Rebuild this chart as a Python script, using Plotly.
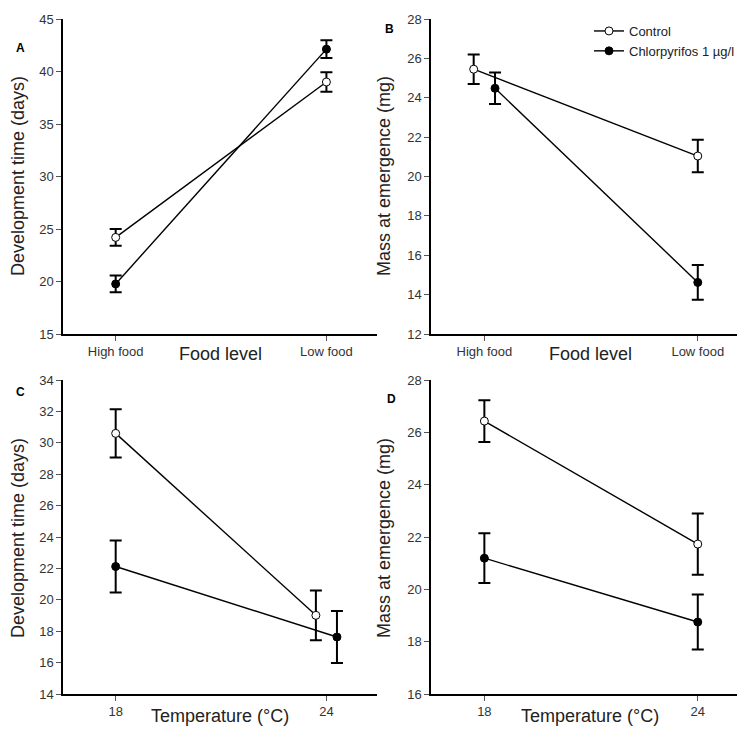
import plotly.graph_objects as go

# ---------------- data ----------------
food_levels = ["High food", "Low food"]
temperatures = ["18", "24"]

# Panel A: development time vs food level
devtime_food_control = [24.2, 39.0]
devtime_food_control_se = [0.8, 0.93]
devtime_food_cpf = [19.77, 42.13]
devtime_food_cpf_se = [0.8, 0.84]

# Panel B: mass at emergence vs food level
mass_food_control = [25.45, 21.04]
mass_food_control_se = [0.75, 0.83]
mass_food_cpf = [24.48, 14.62]
mass_food_cpf_se = [0.8, 0.88]

# Panel C: development time vs temperature
devtime_temp_control = [30.6, 19.01]
devtime_temp_control_se = [1.53, 1.59]
devtime_temp_cpf = [22.12, 17.63]
devtime_temp_cpf_se = [1.66, 1.66]

# Panel D: mass at emergence vs temperature
mass_temp_control = [26.43, 21.73]
mass_temp_control_se = [0.8, 1.17]
mass_temp_cpf = [21.19, 18.75]
mass_temp_cpf_se = [0.95, 1.05]

# small horizontal dodge used in the original to separate overlapping points
dodge_B_control = [-0.05, 0.0]
dodge_B_cpf = [0.05, 0.0]
dodge_C_control = [0.0, -0.05]
dodge_C_cpf = [0.0, 0.05]
no_dodge = [0.0, 0.0]

series_names = ["Control", "Chlorpyrifos 1 µg/l"]

# ---------------- figure ----------------
W, H = 745, 730
FONT = "Liberation Sans, Arial, sans-serif"
fig = go.Figure()

panels = [
    ("x", "y", devtime_food_control, devtime_food_control_se, devtime_food_cpf, devtime_food_cpf_se, no_dodge, no_dodge),
    ("x2", "y2", mass_food_control, mass_food_control_se, mass_food_cpf, mass_food_cpf_se, dodge_B_control, dodge_B_cpf),
    ("x3", "y3", devtime_temp_control, devtime_temp_control_se, devtime_temp_cpf, devtime_temp_cpf_se, dodge_C_control, dodge_C_cpf),
    ("x4", "y4", mass_temp_control, mass_temp_control_se, mass_temp_cpf, mass_temp_cpf_se, no_dodge, no_dodge),
]

for i, (xa, ya, c, cse, p, pse, dc, dp) in enumerate(panels):
    base = list(range(2))
    for vals, se, dodge, name, fill in [
        (c, cse, dc, series_names[0], "white"),
        (p, pse, dp, series_names[1], "black"),
    ]:
        fig.add_trace(go.Scatter(
            x=[b + d for b, d in zip(base, dodge)],
            y=vals,
            mode="lines+markers",
            name=name,
            showlegend=(i == 1),
            xaxis=xa, yaxis=ya,
            line=dict(color="black", width=1.4),
            marker=dict(symbol="circle", size=8, color=fill,
                        line=dict(color="black", width=1)),
            error_y=dict(type="data", array=se, visible=True,
                         color="black", thickness=2, width=6),
        ))

def px_x(p):
    return p / W

def px_y(p):
    return 1 - p / H

xdom_left = [px_x(55), px_x(369)]
xdom_right = [px_x(423), px_x(741)]
ydom_top = [px_y(326), px_y(11)]
ydom_bot = [px_y(686), px_y(372)]

axis_common = dict(
    showline=True, linecolor="black", linewidth=1.5,
    ticks="outside", ticklen=5, tickwidth=1.2, tickcolor="#555555",
    showgrid=False, zeroline=False, automargin=False,
    tickfont=dict(family=FONT, size=13, color="#333333"),
)

xr = [-0.25, 1.24]
fig.update_layout(
    xaxis=dict(domain=xdom_left, anchor="y", range=xr, tickvals=[0, 1], ticktext=food_levels, **axis_common),
    yaxis=dict(domain=ydom_top, anchor="x", range=[15, 45], dtick=5, **axis_common),
    xaxis2=dict(domain=xdom_right, anchor="y2", range=xr, tickvals=[0, 1], ticktext=food_levels, **axis_common),
    yaxis2=dict(domain=ydom_top, anchor="x2", range=[12, 28], dtick=2, **axis_common),
    xaxis3=dict(domain=xdom_left, anchor="y3", range=xr, tickvals=[0, 1], ticktext=temperatures, **axis_common),
    yaxis3=dict(domain=ydom_bot, anchor="x3", range=[14, 34], dtick=2, **axis_common),
    xaxis4=dict(domain=xdom_right, anchor="y4", range=xr, tickvals=[0, 1], ticktext=temperatures, **axis_common),
    yaxis4=dict(domain=ydom_bot, anchor="x4", range=[16, 28], dtick=2, **axis_common),
)

annotations = []

def ann(text, x, y, size, bold=False, angle=0, color="#222222"):
    annotations.append(dict(
        text=f"<b>{text}</b>" if bold else text,
        x=px_x(x), y=px_y(y), xref="paper", yref="paper",
        xanchor="center", yanchor="middle", showarrow=False,
        textangle=angle, borderpad=0,
        font=dict(family=FONT, size=size, color=color),
    ))

# axis titles
ann("Food level", 212, 346, 18)
ann("Food level", 582, 346, 18)
ann("Temperature (°C)", 212, 708, 18)
ann("Temperature (°C)", 582, 708, 18)
ann("Development time (days)", 10, 168, 18, angle=-90)
ann("Mass at emergence (mg)", 376, 168, 18, angle=-90)
ann("Development time (days)", 10, 530, 18, angle=-90)
ann("Mass at emergence (mg)", 376, 530, 18, angle=-90)

# panel letters
ann("A", 12, 40, 12, bold=True, color="black")
ann("B", 381, 21, 12, bold=True, color="black")
ann("C", 12, 384, 12, bold=True, color="black")
ann("D", 383, 391, 12, bold=True, color="black")

fig.update_layout(
    width=W, height=H,
    margin=dict(l=0, r=0, t=0, b=0),
    paper_bgcolor="white", plot_bgcolor="white",
    annotations=annotations,
    legend=dict(
        x=px_x(581), y=px_y(8), xanchor="left", yanchor="top",
        font=dict(family=FONT, size=13, color="#222222"),
        bgcolor="rgba(0,0,0,0)", itemwidth=30, tracegroupgap=0,
    ),
    font=dict(family=FONT),
)

fig.write_html("out.html")
